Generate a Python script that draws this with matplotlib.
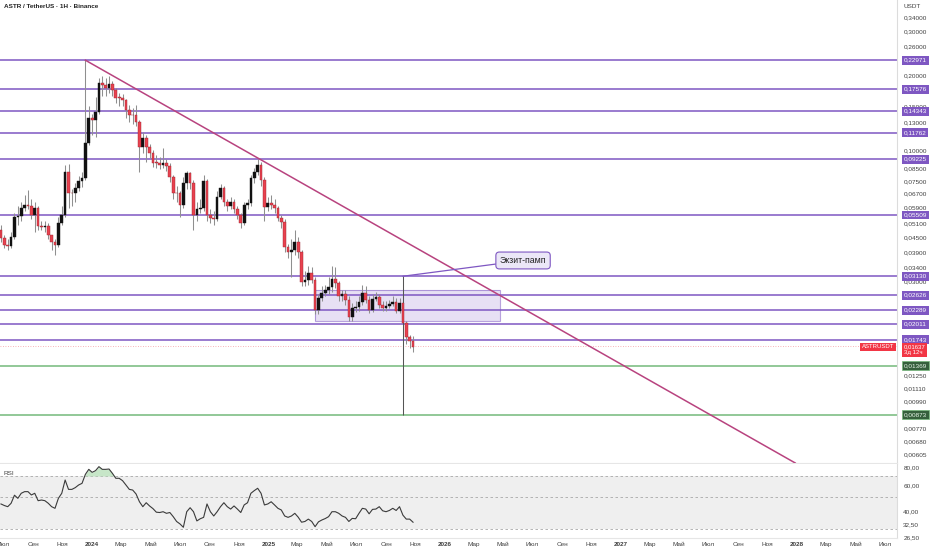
import numpy as np
import matplotlib
matplotlib.use("Agg")
import matplotlib.pyplot as plt
import matplotlib.dates as mdates
from matplotlib.transforms import blended_transform_factory
from matplotlib.patches import Rectangle

plt.rcParams["font.family"] = ["Liberation Sans", "DejaVu Sans"]

# weekly candles ASTR/USDT
first_week = "2023-06-26"
first_open = 0.0479
closes = [0.0445, 0.0417, 0.0415, 0.0449, 0.0540, 0.0545, 0.0587, 0.0604, 0.0598, 0.0550,
          0.0587, 0.0497, 0.0495, 0.0498, 0.0457, 0.0429, 0.0417, 0.0511, 0.0550, 0.0818,
          0.0674, 0.0672, 0.0706, 0.0753, 0.0774, 0.1070, 0.1348, 0.1323, 0.1424, 0.1861,
          0.1827, 0.1777, 0.1844, 0.1745, 0.1621, 0.1618, 0.1591, 0.1451, 0.1385, 0.1380,
          0.1299, 0.1031, 0.1121, 0.1031, 0.0975, 0.0890, 0.0888, 0.0873, 0.0890, 0.0865,
          0.0782, 0.0674, 0.0672, 0.0604, 0.0740, 0.0811, 0.0740, 0.0550, 0.0582, 0.0587,
          0.0753, 0.0550, 0.0535, 0.0530, 0.0650, 0.0706, 0.0620, 0.0598, 0.0620, 0.0582,
          0.0550, 0.0511, 0.0604, 0.0615, 0.0774, 0.0818, 0.0873, 0.0760, 0.0593, 0.0615,
          0.0604, 0.0587, 0.0535, 0.0516, 0.0409, 0.0391, 0.0398, 0.0429, 0.0391, 0.0296,
          0.0302, 0.0322, 0.0302, 0.0229, 0.0256, 0.0268, 0.0275, 0.0283, 0.0305, 0.0294,
          0.0261, 0.0265, 0.0251, 0.0214, 0.0233, 0.0236, 0.0247, 0.0268, 0.0251, 0.0229,
          0.0253, 0.0258, 0.0240, 0.0233, 0.0238, 0.0242, 0.0247, 0.0227, 0.0245, 0.0203,
          0.0178, 0.0172, 0.0163]
highs = [0.0500, 0.0460, 0.0440, 0.0470, 0.0560, 0.0600, 0.0620, 0.0660, 0.0693, 0.0640,
         0.0620, 0.0600, 0.0520, 0.0520, 0.0510, 0.0460, 0.0440, 0.0540, 0.0600, 0.0870,
         0.0880, 0.0700, 0.0740, 0.0790, 0.0820, 0.2297, 0.1500, 0.1400, 0.1640, 0.1950,
         0.1990, 0.1950, 0.1980, 0.1900, 0.1780, 0.1700, 0.1680, 0.1600, 0.1520, 0.1480,
         0.1520, 0.1320, 0.1180, 0.1150, 0.1060, 0.1000, 0.0960, 0.0940, 0.1020, 0.0920,
         0.0890, 0.0800, 0.0720, 0.0690, 0.0780, 0.0830, 0.0820, 0.0760, 0.0620, 0.0640,
         0.0800, 0.0770, 0.0580, 0.0570, 0.0690, 0.0730, 0.0720, 0.0640, 0.0650, 0.0640,
         0.0600, 0.0560, 0.0620, 0.0640, 0.0800, 0.0850, 0.0925, 0.0900, 0.0780, 0.0650,
         0.0660, 0.0640, 0.0600, 0.0550, 0.0530, 0.0420, 0.0440, 0.0480, 0.0450, 0.0400,
         0.0330, 0.0345, 0.0340, 0.0310, 0.0265, 0.0285, 0.0290, 0.0310, 0.0345, 0.0340,
         0.0300, 0.0275, 0.0275, 0.0260, 0.0245, 0.0250, 0.0262, 0.0290, 0.0285, 0.0260,
         0.0265, 0.0270, 0.0265, 0.0250, 0.0248, 0.0252, 0.0260, 0.0255, 0.0255, 0.0313,
         0.0208, 0.0182, 0.0180]
lows = [0.0430, 0.0405, 0.0400, 0.0405, 0.0440, 0.0500, 0.0520, 0.0570, 0.0580, 0.0530,
        0.0470, 0.0480, 0.0480, 0.0470, 0.0440, 0.0400, 0.0380, 0.0410, 0.0500, 0.0540,
        0.0587, 0.0600, 0.0620, 0.0690, 0.0710, 0.0760, 0.1050, 0.1150, 0.1130, 0.1400,
        0.1650, 0.1650, 0.1700, 0.1650, 0.1550, 0.1500, 0.1500, 0.1350, 0.1300, 0.1280,
        0.1250, 0.0820, 0.0980, 0.0900, 0.0930, 0.0860, 0.0850, 0.0840, 0.0850, 0.0830,
        0.0750, 0.0640, 0.0620, 0.0540, 0.0590, 0.0700, 0.0700, 0.0480, 0.0520, 0.0560,
        0.0570, 0.0520, 0.0510, 0.0500, 0.0520, 0.0640, 0.0600, 0.0570, 0.0580, 0.0560,
        0.0530, 0.0490, 0.0500, 0.0580, 0.0600, 0.0740, 0.0800, 0.0720, 0.0520, 0.0570,
        0.0580, 0.0560, 0.0520, 0.0490, 0.0390, 0.0370, 0.0310, 0.0380, 0.0370, 0.0285,
        0.0285, 0.0290, 0.0295, 0.0220, 0.0220, 0.0250, 0.0260, 0.0265, 0.0270, 0.0280,
        0.0250, 0.0250, 0.0240, 0.0208, 0.0208, 0.0225, 0.0228, 0.0240, 0.0245, 0.0222,
        0.0225, 0.0248, 0.0233, 0.0228, 0.0228, 0.0233, 0.0238, 0.0222, 0.0222, 0.00873,
        0.0168, 0.0162, 0.0155]
rsi = [44.9, 43.8, 43.0, 45.4, 51.6, 49.1, 53.2, 54.6, 54.6, 51.8,
       53.2, 47.3, 47.8, 47.3, 45.4, 43.0, 41.9, 49.1, 53.2, 65.7,
       56.6, 56.6, 58.2, 60.7, 62.3, 71.9, 77.8, 74.2, 76.2, 81.2,
       77.8, 77.8, 78.2, 73.0, 67.5, 67.5, 65.0, 60.7, 56.6, 56.0,
       52.6, 46.5, 43.0, 45.8, 43.5, 41.7, 39.4, 39.2, 39.7, 38.7,
       39.2, 36.7, 34.0, 32.7, 31.0, 39.7, 42.3, 39.7, 34.3, 35.5,
       36.3, 44.9, 39.7, 37.1, 39.7, 43.0, 45.8, 43.0, 41.4, 43.5,
       41.4, 39.2, 44.2, 45.8, 53.2, 55.5, 57.6, 53.2, 44.2, 44.9,
       46.5, 44.2, 41.9, 40.8, 37.1, 36.3, 37.1, 38.7, 36.4, 33.6,
       34.0, 35.3, 34.0, 31.3, 33.8, 34.8, 35.6, 36.7, 39.7, 39.7,
       38.7, 37.1, 36.3, 34.0, 35.7, 35.5, 38.7, 41.9, 41.4, 38.4,
       41.2, 41.4, 43.0, 40.3, 39.7, 40.5, 41.9, 40.5, 43.0, 37.6,
       35.3, 35.3, 33.6]

levels_purple = [0.22971, 0.17576, 0.14343, 0.11762, 0.09225, 0.05509,
                 0.03130, 0.02626, 0.02289, 0.02011, 0.01743]
levels_green = [0.01369, 0.00873]
last_price = 0.01637
countdown = "3д 12ч"

trend_dates = ["2023-12-18", "2027-12-28"]
trend_prices = [0.2297, 0.00559]

zone_dates = ["2025-04-07", "2026-04-25"]
zone_prices = [0.0207, 0.0275]

note_text = "Экзит-памп"
note_date, note_price = "2026-06-12", 0.0362

price_ticks = [0.34, 0.30, 0.26, 0.20, 0.15, 0.13, 0.10, 0.085, 0.075, 0.067,
               0.059, 0.051, 0.045, 0.039, 0.034, 0.030, 0.0125,
               0.0111, 0.0099, 0.0077, 0.0068, 0.00605]
rsi_ticks = [80, 60, 40, 32.5, 26.5]

tick_dates = ["2023-07-01", "2023-09-01", "2023-11-01", "2024-01-01", "2024-03-01", "2024-05-01",
              "2024-07-01", "2024-09-01", "2024-11-01", "2025-01-01", "2025-03-01", "2025-05-01",
              "2025-07-01", "2025-09-01", "2025-11-01", "2026-01-01", "2026-03-01", "2026-05-01",
              "2026-07-01", "2026-09-01", "2026-11-01", "2027-01-01", "2027-03-01", "2027-05-01",
              "2027-07-01", "2027-09-01", "2027-11-01", "2028-01-01", "2028-03-01", "2028-05-01",
              "2028-07-01"]
tick_labels = ["Июл", "Сен", "Ноя", "2024", "Мар", "Май", "Июл", "Сен", "Ноя", "2025", "Мар", "Май",
               "Июл", "Сен", "Ноя", "2026", "Мар", "Май", "Июл", "Сен", "Ноя", "2027", "Мар", "Май",
               "Июл", "Сен", "Ноя", "2028", "Мар", "Май", "Июл"]

PURPLE = "#7e57c2"
GREEN = "#74b97a"
GREEN_LBL = "#35603c"
RED = "#f23645"
TXT = "#404040"
FS = 4.6


def fmt(v):
    return f"{v:.5f}".replace(".", ",")


n = len(closes)
dates = mdates.date2num(np.datetime64(first_week) + np.arange(n) * np.timedelta64(7, "D"))
closes = np.array(closes)
opens = np.concatenate([[first_open], closes[:-1]])
highs = np.array(highs)
lows = np.array(lows)

fig = plt.figure(figsize=(9.32, 5.5), dpi=100)
ax = fig.add_axes([0, 1 - 463 / 550, 897 / 932, 463 / 550])
ax2 = fig.add_axes([0, 12 / 550, 897 / 932, 74 / 550], sharex=ax)

ax.set_yscale("log")
ax.set_ylim(0.005588, 0.4003)
ax.set_xlim(mdates.date2num(np.datetime64("2023-06-24")), mdates.date2num(np.datetime64("2028-07-26")))

# levels
for lv in levels_purple:
    ax.axhline(lv, color=PURPLE, lw=1.1, zorder=1)
for lv in levels_green:
    ax.axhline(lv, color=GREEN, lw=1.1, zorder=1)
ax.axhline(last_price, color=RED, lw=0.6, ls=(0, (1, 2)), alpha=0.5, zorder=1)

# zone
zx = mdates.date2num(np.array(zone_dates, dtype="datetime64[D]"))
ax.add_patch(Rectangle((zx[0], zone_prices[0]), zx[1] - zx[0], zone_prices[1] - zone_prices[0],
                       facecolor=PURPLE, alpha=0.18, edgecolor="none", zorder=1.5))
ax.add_patch(Rectangle((zx[0], zone_prices[0]), zx[1] - zx[0], zone_prices[1] - zone_prices[0],
                       facecolor="none", edgecolor=PURPLE, alpha=0.55, lw=0.8, zorder=1.5))

# candles
up = closes >= opens
crash = int(np.argmin(lows))
wick_col = np.where(np.arange(n) == crash, "#555555", "#8f8f8f")
ax.vlines(dates, lows, highs, colors=wick_col, lw=0.75, zorder=2)
bot = np.minimum(opens, closes)
hgt = np.maximum(np.abs(closes - opens), bot * 0.008)
ax.bar(dates[up], hgt[up], bottom=bot[up], width=5.6, color="#111111", edgecolor="#111111", lw=0.3, zorder=3)
ax.bar(dates[~up], hgt[~up], bottom=bot[~up], width=5.6, color="#e8424f", edgecolor="#9c2530", lw=0.3, zorder=3)

# trend line
tx = mdates.date2num(np.array(trend_dates, dtype="datetime64[D]"))
ax.plot(tx, trend_prices, color="#b8437f", lw=1.1, zorder=4)

# callout
ax.annotate(note_text, xy=(dates[crash], highs[crash]),
            xytext=(mdates.date2num(np.datetime64(note_date)), note_price),
            fontsize=6.3, color="#222222", ha="center", va="center", zorder=6,
            bbox=dict(boxstyle="round,pad=0.45,rounding_size=0.4", fc="#ebe7f7", ec=PURPLE, lw=0.8),
            arrowprops=dict(arrowstyle="-", color=PURPLE, lw=0.9, shrinkA=0, shrinkB=0))

# price axis
tr = blended_transform_factory(ax.transAxes, ax.transData)
ax.yaxis.tick_right()
ax.set_yticks(price_ticks)
ax.set_yticklabels([fmt(v) for v in price_ticks])
ax.yaxis.set_minor_locator(matplotlib.ticker.NullLocator())
ax.tick_params(axis="y", length=0, pad=4.5, labelsize=FS, labelcolor=TXT)
ax.tick_params(axis="x", length=0, labelbottom=False)
for sp in ["top", "left"]:
    ax.spines[sp].set_visible(False)
ax.spines["right"].set_color("#dcdcdc")
ax.spines["bottom"].set_color("#e6e6e6")
ax.spines["right"].set_linewidth(0.8)
ax.spines["bottom"].set_linewidth(0.8)

for lv in levels_purple:
    ax.text(1.0075, lv, fmt(lv), transform=tr, fontsize=FS, color="white", va="center", ha="left",
            clip_on=False, zorder=7, bbox=dict(boxstyle="square,pad=0.3", fc=PURPLE, ec="none"))
for lv in levels_green:
    ax.text(1.0075, lv, fmt(lv), transform=tr, fontsize=FS, color="#e8f5e9", va="center", ha="left",
            clip_on=False, zorder=7, bbox=dict(boxstyle="square,pad=0.3", fc=GREEN_LBL, ec=GREEN, lw=0.5))
ax.text(1.0075, last_price * 1.02, fmt(last_price) + "\n" + countdown, transform=tr, fontsize=4.3,
        color="white", va="top", ha="left", clip_on=False, zorder=7, linespacing=1.15,
        bbox=dict(boxstyle="square,pad=0.3", fc=RED, ec="none"))
ax.text(0.997, last_price * 1.02, "ASTRUSDT", transform=tr, fontsize=4.3, color="white", va="top",
        ha="right", clip_on=False, zorder=7, bbox=dict(boxstyle="square,pad=0.3", fc=RED, ec="none"))

# RSI pane
ax2.set_yscale("log")
ax2.set_ylim(26.15, 84.7)
ax2.axhspan(30, 70, color="#efefef", lw=0, zorder=0)
for lv in [70, 50, 30]:
    ax2.axhline(lv, color="#a8a8a8", lw=0.6, ls=(0, (3, 3)), zorder=1)
rsi = np.array(rsi)
ax2.fill_between(dates, 70, rsi, where=rsi > 70, interpolate=True, color="#b9e0bb", alpha=0.8, lw=0, zorder=2)
ax2.plot(dates, rsi, color="#3a3a3a", lw=0.8, zorder=3)
ax2.text(0.004, 0.85, "RSI", transform=ax2.transAxes, fontsize=FS, color=TXT)

ax2.yaxis.tick_right()
ax2.set_yticks(rsi_ticks)
ax2.set_yticklabels([f"{v:.2f}".replace(".", ",") for v in rsi_ticks])
ax2.yaxis.set_minor_locator(matplotlib.ticker.NullLocator())
ax2.tick_params(axis="y", length=0, pad=4.5, labelsize=FS, labelcolor=TXT)

ax2.set_xticks(mdates.date2num(np.array(tick_dates, dtype="datetime64[D]")))
ax2.set_xticklabels(tick_labels)
ax2.tick_params(axis="x", length=0, pad=3, labelsize=FS, labelcolor=TXT)
for lab in ax2.get_xticklabels():
    if lab.get_text().isdigit():
        lab.set_fontweight("bold")
for sp in ["top", "left"]:
    ax2.spines[sp].set_visible(False)
ax2.spines["right"].set_color("#dcdcdc")
ax2.spines["bottom"].set_color("#e6e6e6")
ax2.spines["right"].set_linewidth(0.8)
ax2.spines["bottom"].set_linewidth(0.8)

fig.text(4 / 932, 1 - 6 / 550, "ASTR / TetherUS · 1Н · Binance", fontsize=FS, fontweight="bold",
         color="#222222", va="center", ha="left")
fig.text(903 / 932, 1 - 7 / 550, "USDT", fontsize=FS, color=TXT, va="center", ha="left")

fig.savefig("out.png", dpi=100)
